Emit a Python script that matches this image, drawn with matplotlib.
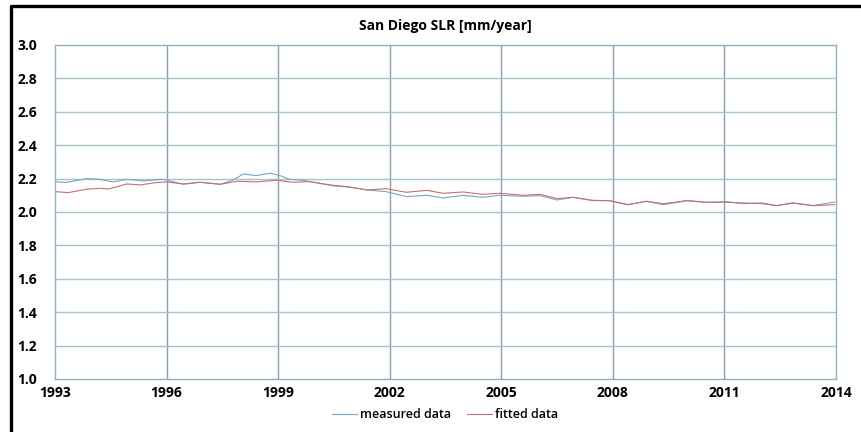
import matplotlib
matplotlib.use("Agg")
import matplotlib.pyplot as plt
from matplotlib.lines import Line2D

# ---- data ----
measured_years = [1993.0, 1993.3, 1993.85, 1994.2, 1994.56, 1994.93, 1995.37, 1995.9,
                  1996.45, 1996.9, 1997.44, 1997.8, 1998.06, 1998.4, 1998.8, 1999.05,
                  1999.3, 1999.67, 2000.1, 2000.5, 2000.95, 2001.4, 2001.9, 2002.45,
                  2003.0, 2003.43, 2003.97, 2004.5, 2004.96, 2005.58, 2006.04, 2006.5,
                  2006.93, 2007.47, 2007.9, 2008.4, 2008.9, 2009.35, 2010.0, 2010.5,
                  2011.06, 2011.5, 2012.03, 2012.4, 2012.84, 2013.38, 2013.97]
measured_vals = [2.181, 2.177, 2.200, 2.196, 2.180, 2.196, 2.186, 2.196,
                 2.166, 2.178, 2.166, 2.192, 2.228, 2.218, 2.232, 2.218,
                 2.196, 2.190, 2.172, 2.156, 2.148, 2.132, 2.122, 2.092,
                 2.100, 2.084, 2.100, 2.088, 2.100, 2.094, 2.098, 2.072,
                 2.088, 2.070, 2.068, 2.044, 2.064, 2.044, 2.068, 2.058,
                 2.062, 2.050, 2.054, 2.038, 2.054, 2.038, 2.060]

fitted_years = [1993.0, 1993.35, 1993.85, 1994.2, 1994.45, 1994.93, 1995.3, 1995.7,
                1996.0, 1996.45, 1996.9, 1997.44, 1997.9, 1998.4, 1998.96, 1999.4,
                1999.85, 2000.4, 2000.85, 2001.4, 2001.9, 2002.45, 2003.0, 2003.43,
                2003.97, 2004.5, 2004.96, 2005.58, 2006.04, 2006.5, 2006.93, 2007.47,
                2007.9, 2008.4, 2008.9, 2009.35, 2010.0, 2010.5, 2011.06, 2011.5,
                2012.03, 2012.4, 2012.84, 2013.38, 2013.97]
fitted_vals = [2.122, 2.116, 2.136, 2.142, 2.138, 2.168, 2.162, 2.176,
               2.180, 2.168, 2.178, 2.166, 2.184, 2.180, 2.190, 2.178,
               2.182, 2.162, 2.152, 2.132, 2.140, 2.118, 2.130, 2.112,
               2.120, 2.106, 2.112, 2.100, 2.106, 2.080, 2.088, 2.068,
               2.068, 2.044, 2.064, 2.050, 2.068, 2.058, 2.058, 2.054,
               2.050, 2.038, 2.054, 2.038, 2.044]

x_ticks = [1993, 1996, 1999, 2002, 2005, 2008, 2011, 2014]
y_ticks = [1.0, 1.2, 1.4, 1.6, 1.8, 2.0, 2.2, 2.4, 2.6, 2.8, 3.0]

title = "San Diego SLR [mm/year]"
labels = ["measured data", "fitted data"]

W, H = 862, 432
fig = plt.figure(figsize=(W / 100, H / 100), dpi=100)
fig.patch.set_facecolor("white")

left, right, top, bottom = 55, 836, 45, 379
ax = fig.add_axes([left / W, 1 - bottom / H, (right - left) / W, (bottom - top) / H])

font = "Open Sans"
ax.plot(measured_years, measured_vals, color="#78a4c6", lw=0.8, label=labels[0])
ax.plot(fitted_years, fitted_vals, color="#c8706c", lw=0.8, label=labels[1])

ax.set_xlim(1993, 2014)
ax.set_ylim(1.0, 3.0)
ax.set_xticks(x_ticks)
ax.set_yticks(y_ticks)
ax.set_xticklabels([str(t) for t in x_ticks], fontfamily=font, fontweight="bold", fontsize=10)
ax.set_yticklabels([f"{t:.1f}" for t in y_ticks], fontfamily=font, fontweight="bold", fontsize=10)
ax.tick_params(axis="y", length=0, pad=13)
ax.tick_params(axis="x", length=0, pad=5)

for t in x_ticks[1:-1]:
    ax.axvline(t, color="#86a2b0", lw=1.0, zorder=0)
for t in y_ticks[1:-1]:
    ax.axhline(t, color="#a6c3d0", lw=1.0, zorder=0)
for s in ax.spines.values():
    s.set_color("#92b0bd")
    s.set_linewidth(1.0)

fig.text(445 / W, 1 - 26 / H, title, ha="center", va="center",
         fontfamily=font, fontweight="bold", fontsize=10)

leg = fig.legend(loc="center", bbox_to_anchor=(445 / W, 1 - 415 / H), ncol=2,
                 frameon=False, prop={"family": font, "size": 9, "weight": "semibold"},
                 handlelength=2.0, handletextpad=0.3, columnspacing=1.2)

# frame lines (left and top)
fig.add_artist(Line2D([11 / W, 11 / W, 1.0], [0.0, 1 - 6 / H, 1 - 6 / H],
                      transform=fig.transFigure, color="black", lw=2.4))

fig.savefig("out.png", dpi=100)
